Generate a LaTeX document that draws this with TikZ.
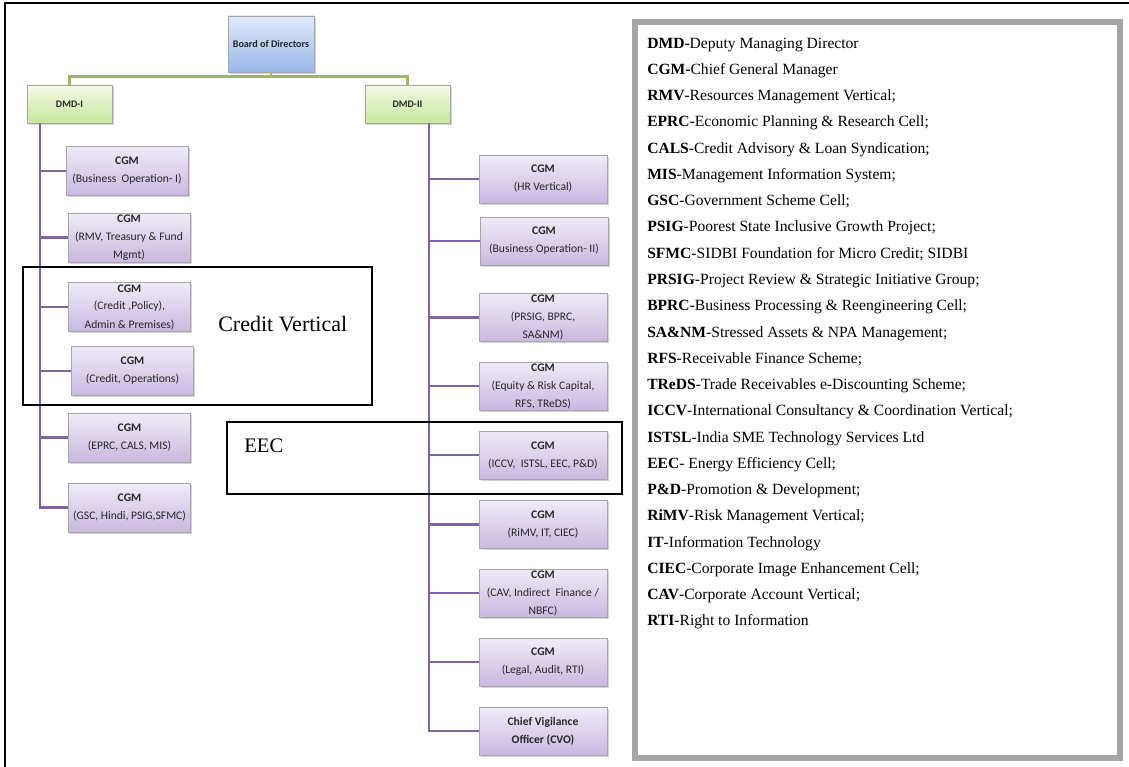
\documentclass[tikz,border=0pt]{standalone}
\usepackage{fontspec}
\setmainfont{Liberation Serif}
\newfontfamily\calib{Carlito}
\usetikzlibrary{shadows}
\definecolor{spinepurple}{HTML}{8064A2}
\definecolor{bargreen}{HTML}{9BBB59}
\definecolor{legendgray}{HTML}{A6A6A6}
\definecolor{cgmtop}{HTML}{F0EBF7}
\definecolor{cgmbot}{HTML}{C9B8E0}
\definecolor{dmdtop}{HTML}{F5FAE8}
\definecolor{dmdbot}{HTML}{C8E79C}
\definecolor{bodtop}{HTML}{E2EAF9}
\definecolor{bodbot}{HTML}{98B8EA}
\tikzset{
  orgbox/.style={draw=black!35, line width=0.6pt, align=center, inner sep=1pt,
    drop shadow={opacity=0.35, shadow xshift=1.2pt, shadow yshift=-1.2pt},
    text=black!85, font=\calib\fontsize{8.7}{13.5}\selectfont},
  cgml/.style={orgbox, top color=cgmtop, bottom color=cgmbot, minimum width=91.5pt, minimum height=36.75pt},
  cgmr/.style={orgbox, top color=cgmtop, bottom color=cgmbot, minimum width=96pt, minimum height=36pt},
  dmdbox/.style={orgbox, top color=dmdtop, bottom color=dmdbot, minimum width=63.75pt, minimum height=28.5pt,
    font=\calib\bfseries\fontsize{7.5}{9}\selectfont},
  spine/.style={spinepurple, line width=2pt},
  bar/.style={bargreen, line width=1.8pt},
  frame/.style={black, line width=1.3pt}
}
\begin{document}
\begin{tikzpicture}[x=0.75pt,y=-0.75pt]
\useasboundingbox (0,0) rectangle (1129,767);
\draw[black, line width=1.5pt] (5,775) |- (1135,3);

\node[orgbox, top color=bodtop, bottom color=bodbot, minimum width=64.5pt, minimum height=42pt,
  font=\calib\bfseries\fontsize{7.6}{9}\selectfont] (bod) at (271,44) {Board of Directors};
\node[dmdbox] (dmd1) at (69.5,104) {DMD-I};
\node[dmdbox] (dmd2) at (407.5,104) {DMD-II};
\draw[bar] (bod.south) -- ++(0,4) -| (dmd1.north);
\draw[bar] (bod.south) -- ++(0,4) -| (dmd2.north);

\node[cgml] (l1) at (127,171) {\textbf{CGM}\\(Business~ Operation- I)};
\node[cgml] (l2) at (129,237.5) {\textbf{CGM}\\(RMV, Treasury \& Fund\\Mgmt)};
\node[cgml] (l3) at (129.5,307) {\textbf{CGM}\\(Credit ,Policy),\\Admin \& Premises)};
\node[cgml] (l4) at (132.5,371) {\textbf{CGM}\\(Credit, Operations)};
\node[cgml] (l5) at (129.5,437.5) {\textbf{CGM}\\(EPRC, CALS, MIS)};
\node[cgml] (l6) at (129.5,507.5) {\textbf{CGM}\\(GSC, Hindi, PSIG,SFMC)};

\node[cgmr] (r1) at (543,179) {\textbf{CGM}\\(HR Vertical)};
\node[cgmr] (r2) at (544,241) {\textbf{CGM}\\(Business Operation- II)};
\node[cgmr] (r3) at (543,317.5) {\textbf{CGM}\\(PRSIG, BPRC,\\SA\&NM)};
\node[cgmr] (r4) at (543,386) {\textbf{CGM}\\(Equity \& Risk Capital,\\RFS, TReDS)};
\node[cgmr] (r5) at (543,455) {\textbf{CGM}\\(ICCV,~ ISTSL, EEC, P\&D)};
\node[cgmr] (r6) at (543,524.5) {\textbf{CGM}\\(RiMV, IT, CIEC)};
\node[cgmr] (r7) at (543,593) {\textbf{CGM}\\(CAV, Indirect~ Finance /\\NBFC)};
\node[cgmr] (r8) at (543,662) {\textbf{CGM}\\(Legal, Audit, RTI)};
\node[cgmr] (r9) at (543,731) {\textbf{Chief Vigilance}\\\textbf{Officer (CVO)}};

\coordinate (s1) at (40,123);
\coordinate (s2) at (429,123);
\draw[spine] (s1) |- (l6.west);
\foreach \n in {l1,l2,l3,l4,l5}
  \draw[spine] (s1 |- \n.west) -- (\n.west);
\draw[spine] (s2) |- (r9.west);
\foreach \n in {r1,r2,r3,r4,r5,r6,r7,r8}
  \draw[spine] (s2 |- \n.west) -- (\n.west);

\draw[frame] (23,267) rectangle (372,405);
\node[anchor=west, inner sep=0pt, font=\fontsize{16.5}{18}\selectfont] (credv) at (218,324) {Credit Vertical};
\draw[frame] (227,422) rectangle (622,494);
\node[anchor=west, inner sep=0pt, font=\fontsize{15.5}{18}\selectfont] (eec) at (244,446) {EEC};

\draw[legendgray, line width=4.5pt] (635,22) rectangle (1119.5,757.5);
\node[anchor=north west, align=left, inner sep=0pt, font=\fontsize{11.7}{19.7}\selectfont] (legend) at (647,37.5) {%
\textbf{DMD-}Deputy Managing Director\\
\textbf{CGM-}Chief General Manager\\
\textbf{RMV}-Resources Management Vertical;\\
\textbf{EPRC}-Economic Planning \& Research Cell;\\
\textbf{CALS}-Credit Advisory \& Loan Syndication;\\
\textbf{MIS}-Management Information System;\\
\textbf{GSC}-Government Scheme Cell;\\
\textbf{PSIG}-Poorest State Inclusive Growth Project;\\
\textbf{SFMC}-SIDBI Foundation for Micro Credit; SIDBI\\
\textbf{PRSIG}-Project Review \& Strategic Initiative Group;\\
\textbf{BPRC}-Business Processing \& Reengineering Cell;\\
\textbf{SA\&NM}-Stressed Assets \& NPA Management;\\
\textbf{RFS}-Receivable Finance Scheme;\\
\textbf{TReDS}-Trade Receivables e-Discounting Scheme;\\
\textbf{ICCV}-International Consultancy \& Coordination Vertical;\\
\textbf{ISTSL}-India SME Technology Services Ltd\\
\textbf{EEC}- Energy Efficiency Cell;\\
\textbf{P\&D}-Promotion \& Development;\\
\textbf{RiMV}-Risk Management Vertical;\\
\textbf{IT}-Information Technology\\
\textbf{CIEC}-Corporate Image Enhancement Cell;\\
\textbf{CAV}-Corporate Account Vertical;\\
\textbf{RTI}-Right to Information};
\end{tikzpicture}
\end{document}
